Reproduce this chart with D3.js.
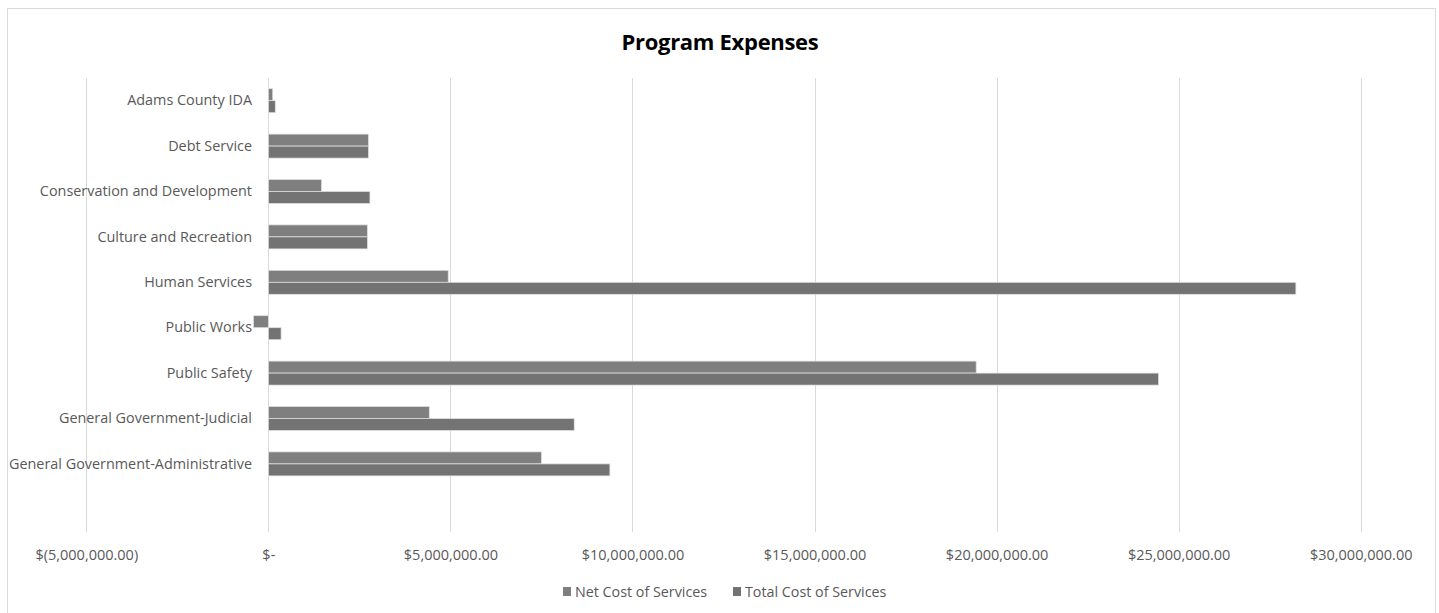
<!DOCTYPE html>
<html>
<head>
<meta charset="utf-8">
<script src="https://cdn.jsdelivr.net/npm/d3@7/dist/d3.min.js"></script>
<style>
  html, body { margin: 0; padding: 0; background: #fff; }
  svg { display: block; }
  text { font-family: "Open Sans", "Liberation Sans", sans-serif; }
</style>
</head>
<body>
<svg id="chart" width="1439" height="613"></svg>
<script>
const categories = ["Adams County IDA", "Debt Service", "Conservation and Development", "Culture and Recreation", "Human Services", "Public Works", "Public Safety", "General Government-Judicial", "General Government-Administrative", ""];
const netCost = [120000, 2750000, 1460000, 2720000, 4940000, -410000, 19440000, 4420000, 7500000, null];
const totalCost = [190000, 2750000, 2790000, 2720000, 28220000, 350000, 24450000, 8400000, 9380000, null];
const seriesNames = ["Net Cost of Services", "Total Cost of Services"];
const seriesColors = ["#7f7f7f", "#737373"];
const xTicks = [-5000000, 0, 5000000, 10000000, 15000000, 20000000, 25000000, 30000000];
const titleText = "Program Expenses";

const svg = d3.select("#chart");

// chart border
svg.append("rect").attr("x", 7.5).attr("y", 8.5).attr("width", 1428).attr("height", 640)
  .attr("fill", "#fff").attr("stroke", "#d9d9d9").attr("stroke-width", 1);

const x = d3.scaleLinear().domain([-5000000, 30000000]).range([86.3, 1360.7]);
const y = d3.scaleBand().domain(categories).range([78, 532]).paddingInner(0).paddingOuter(0);
const groupH = 24;
const ySub = d3.scaleBand().domain(seriesNames).range([0, groupH]);

const fmt = v => {
  if (v === 0) return "$-";
  const s = d3.format(",.2f")(Math.abs(v));
  return v < 0 ? "$(" + s + ")" : "$" + s;
};

// gridlines
svg.append("g").selectAll("line").data(xTicks).join("line")
  .attr("x1", d => Math.round(x(d)) + 0.5).attr("x2", d => Math.round(x(d)) + 0.5)
  .attr("y1", 78).attr("y2", 532)
  .attr("stroke", "#d9d9d9").attr("stroke-width", 1);

// x axis labels via d3 axis
const xAxis = d3.axisBottom(x).tickValues(xTicks).tickFormat(fmt).tickSize(0).tickPadding(0);
const gx = svg.append("g").attr("transform", "translate(0,550)").call(xAxis);
gx.select(".domain").remove();
gx.selectAll("text").attr("fill", "#595959").style("font-size", "14.5px")
  .style("font-family", "'Open Sans', sans-serif");

// bars
const rows = categories.map((c, i) => ({ cat: c, vals: [netCost[i], totalCost[i]] }));
const groups = svg.append("g").selectAll("g").data(rows).join("g")
  .attr("transform", d => `translate(0,${y(d.cat) + (y.bandwidth() - groupH) / 2})`);
groups.selectAll("rect").data(d => d.vals.map((v, j) => ({ v, s: seriesNames[j], j })).filter(e => e.v !== null))
  .join("rect")
  .attr("x", e => x(Math.min(0, e.v)))
  .attr("width", e => Math.abs(x(e.v) - x(0)))
  .attr("y", e => ySub(e.s))
  .attr("height", ySub.bandwidth())
  .attr("fill", e => seriesColors[e.j])
  .attr("stroke", "#e0e0e0").attr("stroke-width", 0.75);

// category labels
const yAxis = d3.axisLeft(y).tickSize(0).tickPadding(0);
const gy = svg.append("g").attr("transform", "translate(252,0)").call(yAxis);
gy.select(".domain").remove();
gy.selectAll("text").attr("fill", "#595959").style("font-size", "14.4px")
  .style("font-family", "'Open Sans', sans-serif");

// title
svg.append("text").attr("x", 720).attr("y", 50).attr("text-anchor", "middle")
  .style("font-size", "22px").style("font-weight", "bold").attr("fill", "#000")
  .attr("letter-spacing", "-0.3").text(titleText);

// legend
const legend = svg.append("g").attr("transform", "translate(0,592)");
const legX = [563, 733];
seriesNames.forEach((n, i) => {
  legend.append("rect").attr("x", legX[i]).attr("y", -5).attr("width", 8).attr("height", 9).attr("fill", seriesColors[i]);
  legend.append("text").attr("x", legX[i] + 12).attr("y", 0).attr("dy", "0.35em")
    .attr("fill", "#595959").style("font-size", "14.3px").text(n);
});
</script>
</body>
</html>
